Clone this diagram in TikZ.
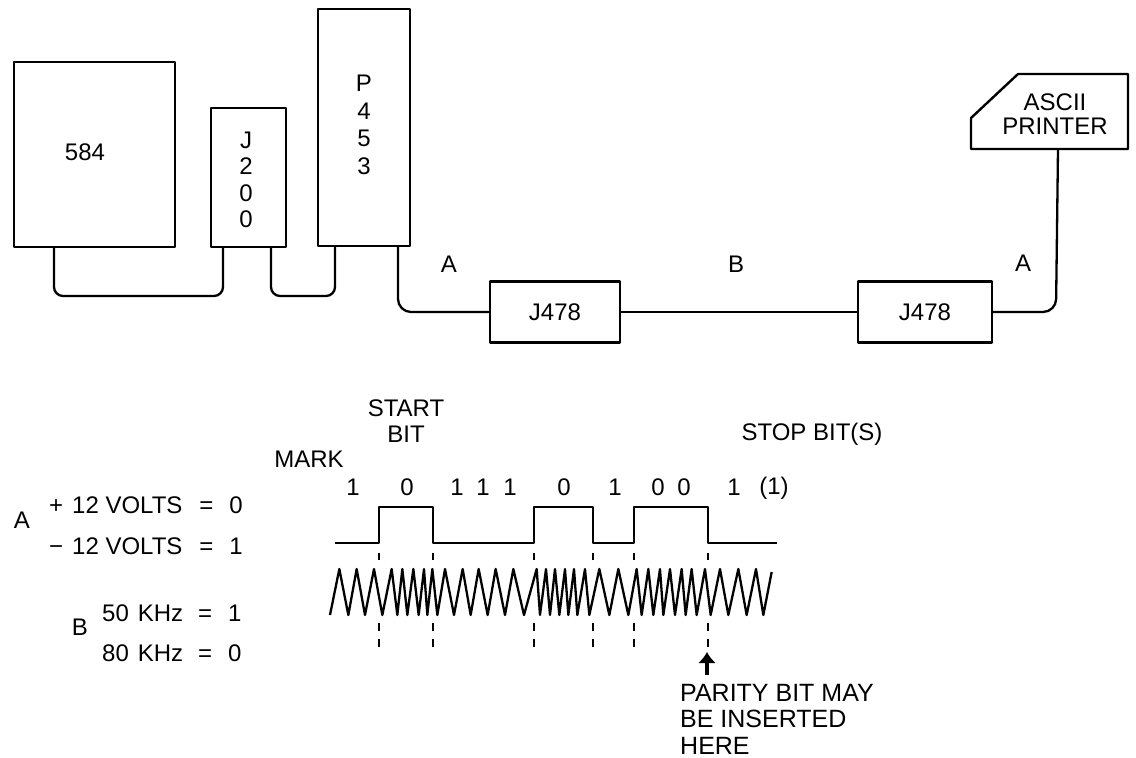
\documentclass[tikz,border=0pt]{standalone}
\usepackage{fontspec}
\usetikzlibrary{arrows.meta}
\setmainfont{Liberation Sans}
\tikzset{
  every picture/.style={line join=round},
  box/.style={draw,line width=2.4pt,inner sep=0pt},
  wire/.style={draw,line width=2.3pt,rounded corners=9pt},
  sig/.style={draw,line width=2.3pt},
  tick/.style={draw,line width=2.1pt},
  txt/.style={inner sep=0pt,font=\fontsize{24}{26}\selectfont,align=center},
}
\begin{document}
\begin{tikzpicture}[x=1pt,y=-1pt]
\useasboundingbox (0,0) rectangle (1136,758);
% boxes
\node[box,minimum width=161pt,minimum height=185pt] (c584) at (94.5,154.5) {};
\node[box,minimum width=75pt,minimum height=139pt] (j200) at (248.5,177.5) {};
\node[box,minimum width=92pt,minimum height=237pt] (p453) at (364,127.5) {};
\node[box,minimum width=130pt,minimum height=61pt,txt] (ja) at (555,312) {J478};
\node[box,minimum width=134pt,minimum height=61pt,txt] (jb) at (925,312) {J478};
\node[txt] (t584) at (85,152) {584};
\node[txt,font=\fontsize{24}{26.5}\selectfont] (t200) at (246,180) {J\\2\\0\\0};
\node[txt,font=\fontsize{24}{27.5}\selectfont] (t453) at (364,125) {P\\4\\5\\3};
% printer
\coordinate (pa) at (971,118);
\coordinate (pb) at (1018,74);
\coordinate (pc) at (1128,74);
\coordinate (pd) at (1128,149);
\coordinate (pe) at (971,149);
\draw[line width=2.4pt] (pa)--(pb)--(pc)--(pd)--(pe)--cycle;
\node[txt,font=\fontsize{24}{24.5}\selectfont] (tprn) at (1055,114) {ASCII\\PRINTER};
% ports
\coordinate (w1a) at (54,247);
\coordinate (w1b) at (223,247);
\coordinate (w2a) at (271,247);
\coordinate (w2b) at (335,247);
\coordinate (w3a) at (398,246);
\coordinate (w4b) at (1058,149);
% wires
\draw[wire] (w1a) -- (54,296) -- (223,296) -- (w1b);
\draw[wire] (w2a) -- (271,296) -- (335,296) -- (w2b);
\draw[wire,rounded corners=13pt] (w3a) -- (398,312) -- (ja.west);
\draw[wire] (ja.east) -- (jb.west);
\draw[wire,rounded corners=13pt] (jb.east) -- (1056,312) -- (w4b);
\node[txt] (la1) at (449,264) {A};
\node[txt] (lb) at (736,264) {B};
\node[txt] (la2) at (1023,263) {A};
% labels of the timing
\node[txt] (tstart) at (406,421) {START\\BIT};
\node[txt] (tstop) at (812,434) {STOP BIT(S)};
\node[txt] (tmark) at (309,459) {MARK};
\foreach \n/\x/\t in {b1/353/1,b2/407/0,b3/457/1,b4/483/1,b5/510/1,b6/564/0,b7/615/1,b8/658/0,b9/684/0,b10/734/1}
  \node[txt] (\n) at (\x,487) {\t};
\node[txt] (b11) at (774,488) {(1)};
% digital signal
\draw[sig] (335,543)--(379,543)--(379,507)--(433,507)--(433,543)--(534,543)--(534,507)--(593,507)--(593,543)--(634,543)--(634,507)--(708,507)--(708,543)--(777,543);
% dashes
\foreach \x in {379,433,534,593,634,708}{
  \draw[tick] (\x,553)--(\x,560);
  \draw[tick] (\x,623)--(\x,631);
  \draw[tick] (\x,639)--(\x,647);
}
% FSK wave
\begin{scope}[shift={(320,0)},x=0.33333pt]
\draw[sig,line join=round] (30,615)--(58,569)--(85,615)--(110,569)--(135,615)--(162,569)--(187,615)--(215,569)--(232,615)--(247,569)--(262,615)--(280,569)--(296,615)--(312,569)--(322,615)--(337,569)--(352,615)--(375,569)--(402,615)--(428,569)--(452,615)--(476,569)--(503,615)--(527,569)--(555,615)--(580,569)--(612,615)--(650,569)--(660,615)--(678,569)--(690,615)--(705,569)--(718,615)--(735,569)--(745,615)--(762,569)--(772,615)--(795,569)--(808,615)--(838,569)--(868,615)--(895,569)--(925,615)--(950,569)--(965,615)--(985,569)--(1000,615)--(1020,569)--(1030,615)--(1050,569)--(1065,615)--(1085,569)--(1097,615)--(1115,569)--(1130,615)--(1155,569)--(1172,615)--(1200,569)--(1225,615)--(1255,569)--(1280,615)--(1308,569)--(1330,615)--(1355,572);
\end{scope}
% left legend
\node[txt] (la3) at (22,520) {A};
\node[txt,anchor=west] (l1) at (49,505) {+\hspace{9pt}12 VOLTS\hspace{17pt}=\hspace{16pt}0};
\node[txt,anchor=west] (l2) at (49,546) {−\hspace{9pt}12 VOLTS\hspace{17pt}=\hspace{16pt}1};
\node[txt] (lb2) at (80,627) {B};
\node[txt,anchor=west] (l3) at (102,613) {50\hspace{9pt}KHz\hspace{15pt}=\hspace{16pt}1};
\node[txt,anchor=west] (l4) at (102,653) {80\hspace{9pt}KHz\hspace{15pt}=\hspace{16pt}0};
% parity
\coordinate (arrowtail) at (707,675);
\coordinate (arrowtip) at (707,652);
\draw[line width=3.5pt,-{Latex[length=11pt,width=18pt]}] (arrowtail)--(arrowtip);
\node[txt,align=left,anchor=north west,font=\fontsize{25}{26.5}\selectfont] (par) at (680,684) {PARITY BIT MAY\\BE INSERTED\\HERE};
\end{tikzpicture}
\end{document}
